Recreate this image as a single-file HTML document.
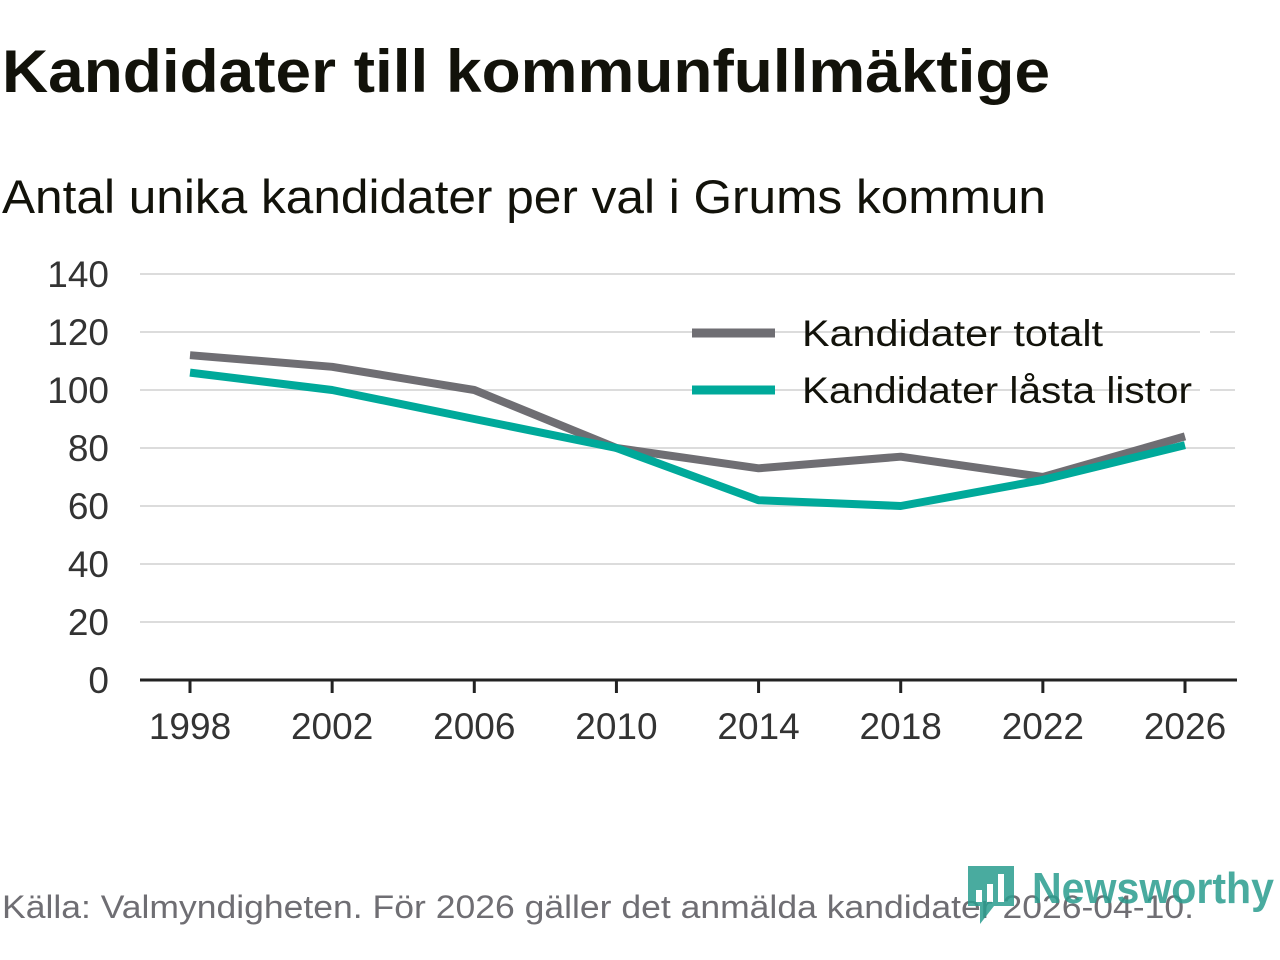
<!DOCTYPE html>
<html><head><meta charset="utf-8"><style>
html,body{margin:0;padding:0;background:#fff;}
svg{display:block;font-family:"Liberation Sans",sans-serif;}
</style></head><body>
<svg id="chart" width="1280" height="960" viewBox="0 0 1280 960" xmlns="http://www.w3.org/2000/svg">
<text x="2" y="92" font-size="60" font-weight="bold" fill="#12120a" textLength="1048" lengthAdjust="spacingAndGlyphs">Kandidater till kommunfullmäktige</text>
<text x="2" y="213" font-size="47" fill="#12120a" textLength="1044" lengthAdjust="spacingAndGlyphs">Antal unika kandidater per val i Grums kommun</text>
<g id="grid"></g>
<g id="yticks"></g>
<g id="xticks"></g>
<g id="lines"></g>
<g>
<rect x="1200" y="312" width="10" height="95" fill="#fff"/>
<line x1="692" y1="333" x2="775" y2="333" stroke="#6f6e73" stroke-width="9"/>
<text x="802" y="346" font-size="37" fill="#12120a" textLength="301" lengthAdjust="spacingAndGlyphs">Kandidater totalt</text>
<line x1="692" y1="390" x2="775" y2="390" stroke="#00a99a" stroke-width="9"/>
<text x="802" y="403" font-size="37" fill="#12120a" textLength="390" lengthAdjust="spacingAndGlyphs">Kandidater låsta listor</text>
</g>
<text x="2" y="918" font-size="32" fill="#6f6e73" textLength="1192" lengthAdjust="spacingAndGlyphs">Källa: Valmyndigheten. För 2026 gäller det anmälda kandidater 2026-04-10.</text>
<g opacity="0.85">
<path d="M968 866 h46 v40 h-20 l-14 18 v-18 h-12 z" fill="#2a9d8f"/>
<rect x="976" y="890" width="6" height="12" fill="#fff"/>
<rect x="987" y="884" width="6" height="18" fill="#fff"/>
<rect x="998" y="874" width="6" height="28" fill="#fff"/>
<text x="1032" y="903" font-size="44" font-weight="bold" fill="#2a9d8f" textLength="242" lengthAdjust="spacingAndGlyphs">Newsworthy</text>
</g>
</svg>
<script>
const years = [1998, 2002, 2006, 2010, 2014, 2018, 2022, 2026];
const totalt = [112, 108, 100, 80, 73, 77, 70, 84];
const lasta = [106, 100, 90, 80, 62, 60, 69, 81];
const yTicks = [0, 20, 40, 60, 80, 100, 120, 140];

const NS = "http://www.w3.org/2000/svg";
const x = v => 190 + (v - 1998) * (1185 - 190) / 28;
const y = v => 680 - v * 406 / 140;
function mk(tag, attrs, parent, txt){
  const e = document.createElementNS(NS, tag);
  for (const k in attrs) e.setAttribute(k, attrs[k]);
  if (txt !== undefined) e.textContent = txt;
  parent.appendChild(e); return e;
}
const grid = document.getElementById('grid'), yg = document.getElementById('yticks'), xg = document.getElementById('xticks'), lg = document.getElementById('lines');
yTicks.forEach(t => {
  if (t > 0) {
    const l = mk('line', {x1:140, x2:1235, y1:y(t), y2:y(t), stroke:'#dcdcdc', 'stroke-width':2}, grid);
    
    
  }
  const tx = mk('text', {x:109, y:y(t) + 13, 'font-size':37, fill:'#333', 'text-anchor':'end'}, yg, String(t));
  
  
});
const ax = mk('line', {x1:140, x2:1237, y1:680, y2:680, stroke:'#222', 'stroke-width':3}, xg);


years.forEach(yr => {
  mk('line', {x1:x(yr), x2:x(yr), y1:680, y2:693, stroke:'#222', 'stroke-width':3}, xg);
  const tx = mk('text', {x:x(yr), y:739, 'font-size':37, fill:'#333', 'text-anchor':'middle'}, xg, String(yr));
  
  
});
function series(vals, color, name){
  const d = vals.map((v, i) => (i ? 'L' : 'M') + x(years[i]) + ' ' + y(v)).join(' ');
  const p = mk('path', {d:d, fill:'none', stroke:color, 'stroke-width':8, 'stroke-linejoin':'round'}, lg);
  
  
}
series(totalt, '#6f6e73', 'line-kandidater-totalt');
series(lasta, '#00a99a', 'line-kandidater-lasta-listor');
</script>
</body></html>
